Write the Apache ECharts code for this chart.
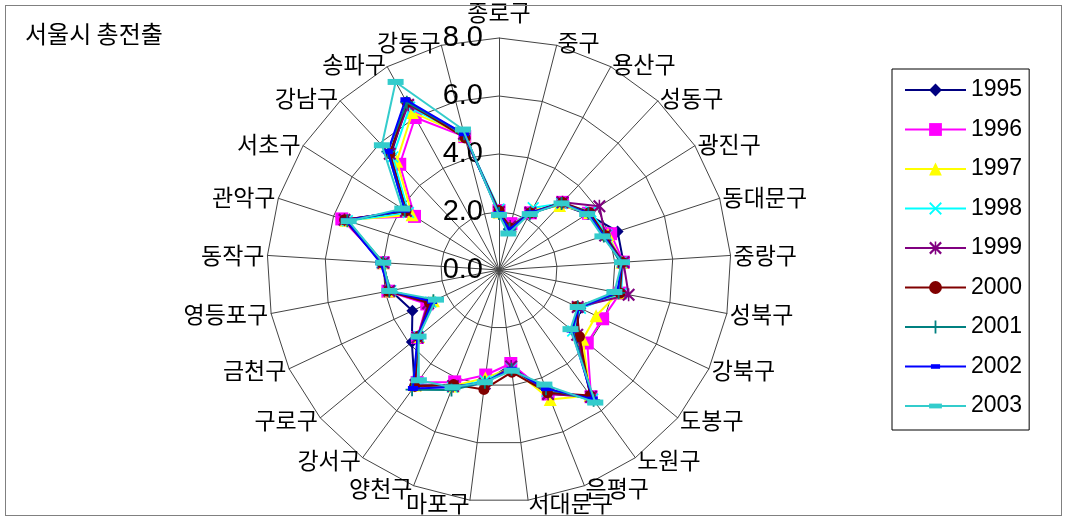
<!DOCTYPE html>
<html>
<head>
<meta charset="utf-8">
<style>
  html, body { margin: 0; padding: 0; background: #fff; }
  #chart { width: 1067px; height: 520px; }
  #frame { position: absolute; left: 5px; top: 5px; width: 1057px; height: 511px;
           border: 1px solid #808080; pointer-events: none; box-sizing: border-box; }
</style>
<script src="https://cdn.jsdelivr.net/npm/echarts@6.0.0/dist/echarts.min.js"></script>
</head>
<body>
<div id="chart"></div>
<div id="frame"></div>
<script>
// 서울시 자치구별 총전출 (clockwise from the top)
const categories = ['종로구', '중구', '용산구', '성동구', '광진구', '동대문구', '중랑구', '성북구',
  '강북구', '도봉구', '노원구', '은평구', '서대문구', '마포구', '양천구', '강서구', '구로구',
  '금천구', '영등포구', '동작구', '관악구', '서초구', '강남구', '송파구', '강동구'];

const years = ['1995', '1996', '1997', '1998', '1999', '2000', '2001', '2002', '2003'];

const v1995 = [2.0, 1.6, 2.25, 3.1, 3.6, 4.3, 4.3, 4.2, 3.1, 3.4, 5.4, 4.55, 3.3, 3.9, 4.3, 4.95, 3.9, 3.3, 3.8, 4.05, 5.6, 3.75, 5.45, 6.55, 4.85];
const v1996 = [2.05, 1.65, 2.25, 3.2, 3.65, 4.05, 4.3, 4.25, 3.95, 3.95, 5.4, 4.6, 3.25, 3.65, 4.15, 4.8, 3.65, 2.75, 3.9, 4.0, 5.7, 3.45, 5.0, 6.0, 4.75];
const v1997 = [2.0, 1.55, 2.35, 3.05, 3.7, 3.95, 4.25, 4.2, 3.7, 3.75, 5.35, 4.8, 3.4, 3.75, 4.3, 4.9, 3.6, 2.5, 3.85, 4.0, 5.55, 3.55, 5.15, 6.2, 4.8];
const v1998 = [2.1, 1.5, 2.45, 3.15, 3.75, 3.9, 4.25, 4.3, 3.1, 3.3, 5.5, 4.5, 3.4, 3.85, 4.35, 4.85, 3.6, 2.6, 3.8, 4.05, 5.5, 3.7, 5.35, 6.4, 4.8];
const v1999 = [2.0, 1.55, 2.25, 3.2, 4.1, 3.85, 4.3, 4.55, 3.0, 3.5, 5.4, 4.6, 3.35, 3.95, 4.3, 4.9, 3.65, 2.7, 3.85, 4.0, 5.6, 3.8, 5.5, 6.5, 4.85];
const v2000 = [2.05, 1.5, 2.25, 3.2, 3.7, 3.85, 4.25, 4.25, 2.95, 3.6, 5.35, 4.55, 3.55, 4.15, 4.25, 4.95, 3.6, 2.65, 3.9, 4.05, 5.6, 3.8, 5.5, 6.6, 4.7];
const v2001 = [1.95, 1.45, 2.2, 3.15, 3.65, 3.8, 4.2, 4.2, 3.0, 3.3, 5.55, 4.4, 3.45, 3.9, 4.45, 5.1, 3.6, 2.5, 3.85, 4.0, 5.5, 3.85, 5.6, 6.6, 4.85];
const v2002 = [1.95, 1.45, 2.25, 3.15, 3.65, 3.8, 4.25, 4.15, 3.05, 3.25, 5.5, 4.4, 3.45, 3.9, 4.35, 5.05, 3.65, 2.55, 3.85, 4.1, 5.55, 3.85, 5.6, 6.7, 4.85];
const v2003 = [1.9, 1.3, 2.2, 3.15, 3.6, 3.75, 4.25, 4.05, 3.0, 3.2, 5.65, 4.25, 3.5, 3.9, 4.35, 4.7, 3.6, 2.4, 3.85, 4.0, 5.45, 3.95, 5.9, 7.4, 5.0];

const radialTicks = [0, 2, 4, 6, 8];

const seriesValues = [v1995, v1996, v1997, v1998, v1999, v2000, v2001, v2002, v2003];

// Marker shapes (the bar markers sit inside a square box so they keep their shape in the legend too)
const xMark = 'path://M0,1 L1,0 L5,4 L9,0 L10,1 L6,5 L10,9 L9,10 L5,6 L1,10 L0,9 L4,5 Z';
const starMark = 'path://M0,1.2 L1.2,0 L5,3.8 L8.8,0 L10,1.2 L6.2,5 L10,8.8 L8.8,10 L5,6.2 L1.2,10 L0,8.8 L3.8,5 Z M4.4,0 L5.6,0 L5.6,10 L4.4,10 Z';
const plusMark = 'path://M4.3,0 L5.7,0 L5.7,4.3 L10,4.3 L10,5.7 L5.7,5.7 L5.7,10 L4.3,10 L4.3,5.7 L0,5.7 L0,4.3 L4.3,4.3 Z';
const smallBar = 'path://M0,0 L0,0 M2,4.5 L12,4.5 L12,9.5 L2,9.5 Z M14,14 L14,14';
const wideBar = 'path://M0,0 L0,0 M0,5 L16,5 L16,11 L0,11 Z M16,16 L16,16';

const styles = [
  { color: '#000080', symbol: 'diamond', size: 12 },
  { color: '#FF00FF', symbol: 'rect', size: 13 },
  { color: '#FFFF00', symbol: 'triangle', size: 13 },
  { color: '#00FFFF', symbol: xMark, size: 12 },
  { color: '#800080', symbol: starMark, size: 13 },
  { color: '#800000', symbol: 'circle', size: 11 },
  { color: '#008080', symbol: plusMark, size: 13 },
  { color: '#0000FF', symbol: smallBar, size: 14 },
  { color: '#33CCCC', symbol: wideBar, size: 16 }
];

// ECharts lays radar indicators out counter-clockwise, so walk the list backwards after the first one
const order = [0].concat(categories.map((_, i) => i).slice(1).reverse());

const indicator = order.map((ci, k) => {
  const item = { name: categories[ci], min: 0, max: 8 };
  if (k === 0) {
    item.axisLabel = {
      show: true,
      margin: 16,
      color: '#000',
      fontSize: 29,
      fontFamily: 'Liberation Sans',
      formatter: v => Number(v).toFixed(1)
    };
  }
  return item;
});

const legendSeries = years.map((y, i) => ({
  type: 'line',
  name: y,
  xAxisIndex: 0,
  yAxisIndex: 0,
  data: [],
  symbol: styles[i].symbol,
  symbolSize: styles[i].size,
  symbolKeepAspect: true,
  lineStyle: { color: styles[i].color, width: 2 },
  itemStyle: { color: styles[i].color }
}));

const radarSeries = years.map((y, i) => ({
  type: 'radar',
  name: y,
  radarIndex: 0,
  symbol: styles[i].symbol,
  symbolSize: styles[i].size,
  symbolKeepAspect: true,
  lineStyle: { color: styles[i].color, width: 2 },
  itemStyle: { color: styles[i].color, borderWidth: 0 },
  emphasis: { disabled: true },
  z: 2 + i,
  data: [{ name: y, value: order.map(ci => seriesValues[i][ci]) }]
}));

const chart = echarts.init(document.getElementById('chart'), null, { renderer: 'canvas' });
chart.setOption({
  backgroundColor: '#fff',
  animation: false,
  title: {
    text: '서울시 총전출',
    left: 20,
    top: 17,
    textStyle: { fontSize: 24, fontWeight: 'normal', color: '#000', fontFamily: 'Noto Sans CJK KR' }
  },
  grid: { left: 0, top: 0, width: 1, height: 1, show: false },
  xAxis: { type: 'value', show: false },
  yAxis: { type: 'value', show: false },
  legend: {
    orient: 'vertical',
    left: 892,
    top: 69,
    data: years,
    itemWidth: 61,
    itemHeight: 16,
    itemGap: 15.5,
    padding: [9, 7, 12, 12],
    borderColor: '#000',
    borderWidth: 1,
    selectedMode: false,
    textStyle: { fontSize: 23, color: '#000', fontFamily: 'Liberation Sans', lineHeight: 24 }
  },
  radar: {
    center: [499, 270],
    radius: 232,
    startAngle: 90,
    splitNumber: radialTicks.length - 1,
    shape: 'polygon',
    axisNameGap: 3,
    axisName: { color: '#000', fontSize: 23, fontFamily: 'Noto Sans CJK KR' },
    axisLine: { lineStyle: { color: '#444', width: 1 } },
    splitLine: { lineStyle: { color: '#444', width: 1 } },
    splitArea: { show: false },
    axisLabel: { show: false },
    indicator: indicator
  },
  series: legendSeries.concat(radarSeries)
});
</script>
</body>
</html>
